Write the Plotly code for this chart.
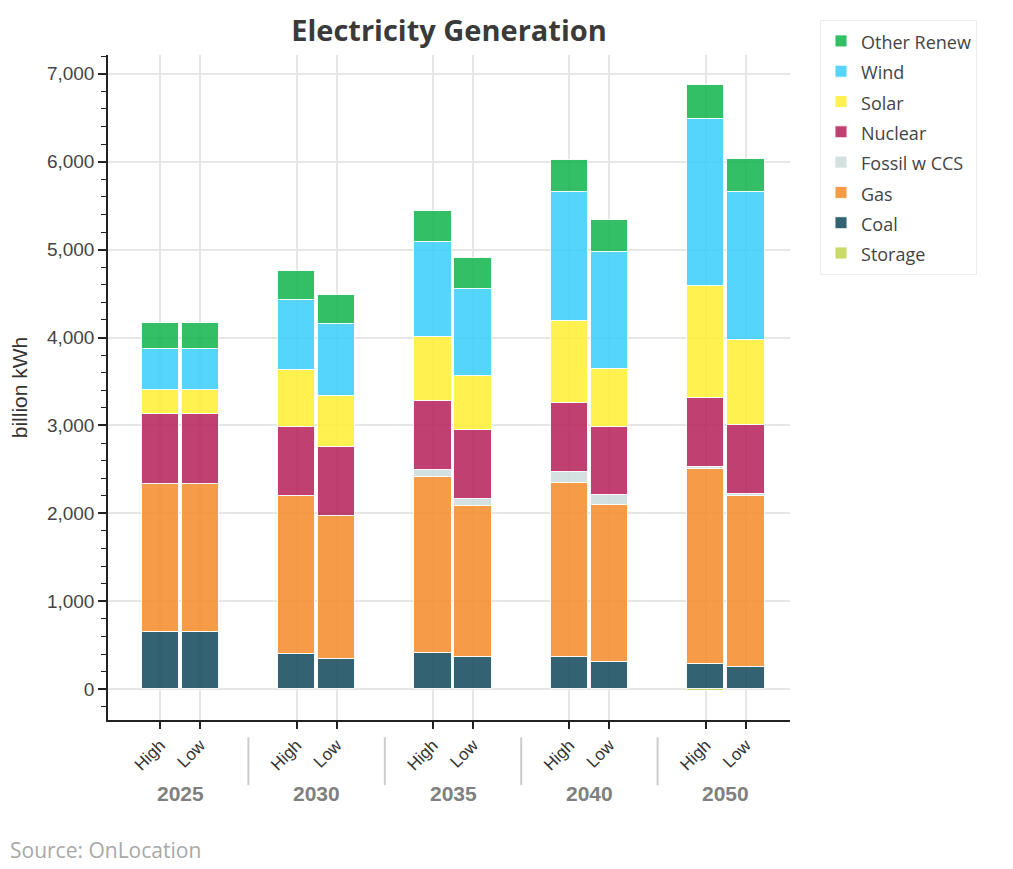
import plotly.graph_objects as go

years = ["2025", "2030", "2035", "2040", "2050"]
scenarios = ["High", "Low"]

# values per (year, scenario) in order: 2025H, 2025L, 2030H, 2030L, ...
storage = [5, 5, 5, 5, 8, 8, 8, 8, -25, 5]
coal = [645, 645, 393, 336, 405, 363, 364, 306, 284, 249]
gas = [1684, 1684, 1798, 1627, 1995, 1714, 1975, 1782, 2219, 1942]
fossil_ccs = [0, 0, 0, 0, 83, 80, 126, 110, 26, 30]
nuclear = [797, 797, 788, 789, 782, 785, 781, 781, 782, 777]
solar = [273, 273, 642, 580, 732, 611, 933, 657, 1274, 967]
wind = [466, 466, 799, 815, 1080, 992, 1467, 1331, 1903, 1684]
other_renew = [296, 296, 330, 330, 353, 350, 364, 364, 383, 376]

series = [
    ("Storage", storage, "rgba(194,210,75,0.85)"),
    ("Coal", coal, "rgba(15,71,90,0.85)"),
    ("Gas", gas, "rgba(244,137,40,0.85)"),
    ("Fossil w CCS", fossil_ccs, "rgba(204,220,220,0.85)"),
    ("Nuclear", nuclear, "rgba(180,30,88,0.85)"),
    ("Solar", solar, "rgba(254,238,49,0.85)"),
    ("Wind", wind, "rgba(55,206,250,0.85)"),
    ("Other Renew", other_renew, "rgba(15,180,75,0.85)"),
]

GROUP_STEP = 3.4
xpos, xtext = [], []
for i, y in enumerate(years):
    for j, s in enumerate(scenarios):
        xpos.append(i * GROUP_STEP + j)
        xtext.append(s)

fig = go.Figure()
for name, vals, col in series:
    fig.add_trace(go.Bar(
        x=xpos, y=vals, name='<span style="font-size:18px">' + name + '</span>', width=0.93,
        marker=dict(color=col, line=dict(color="rgba(255,255,255,0.9)", width=1)),
    ))

shapes = []
annotations = []
for i, y in enumerate(years):
    annotations.append(dict(
        x=i * GROUP_STEP + 0.5, y=-0.111, xref="x", yref="paper",
        text="<b>" + y + "</b>", showarrow=False,
        font=dict(family="Liberation Sans", size=21, color="#808080"),
        xanchor="center", yanchor="middle",
    ))
    if i > 0:
        xd = i * GROUP_STEP - (GROUP_STEP - 1) / 2
        shapes.append(dict(type="line", xref="x", yref="paper", x0=xd, x1=xd,
                           y0=-0.026, y1=-0.098, line=dict(color="#cccccc", width=2)))

annotations.append(dict(
    x=-0.146, y=-0.195, xref="paper", yref="paper", text="Source: OnLocation",
    showarrow=False, xanchor="left", yanchor="middle",
    font=dict(family="Open Sans", size=21, color="#a8a8a8"),
))

fig.update_layout(
    width=1005, height=861,
    barmode="relative", bargap=0,
    plot_bgcolor="white", paper_bgcolor="white",
    margin=dict(l=100, r=223, t=47, b=149, autoexpand=False),
    title=dict(text="<b>Electricity Generation</b>", x=0.5, xref="paper", xanchor="center",
               y=0.974, yanchor="middle",
               font=dict(family="Open Sans", size=29, color="#3a3a3a")),
    legend=dict(traceorder="reversed", x=1.044, y=1.053, xanchor="left", yanchor="top",
                bordercolor="#ececec", borderwidth=1, bgcolor="white",
                font=dict(family="Open Sans", size=21, color="#444"),
                itemwidth=30, tracegroupgap=0),
    shapes=shapes, annotations=annotations,
    showlegend=True,
)

fig.update_xaxes(
    range=[-1.3, 15.7], tickmode="array", tickvals=xpos, ticktext=xtext,
    tickangle=-45, ticks="outside", ticklen=7, tickwidth=1.5, tickcolor="#222",
    showline=True, linecolor="#222", linewidth=1.5, automargin=False,
    showgrid=True, gridcolor="#e6e6e6", gridwidth=1.5, zeroline=False,
    tickfont=dict(family="Liberation Sans", size=17, color="#333"),
)
fig.update_yaxes(
    range=[-350, 7213], tickmode="linear", tick0=0, dtick=1000, tickformat=",d",
    ticks="outside", ticklen=8, tickwidth=1.5, tickcolor="#222",
    minor=dict(dtick=200, ticks="outside", ticklen=5, tickcolor="#222", tickwidth=1, showgrid=False),
    showline=True, linecolor="#222", linewidth=1.5, automargin=False,
    showgrid=True, gridcolor="#e6e6e6", gridwidth=1.5, zeroline=False,
    tickfont=dict(family="Liberation Sans", size=19, color="#444"),
    title=dict(text="billion kWh", standoff=14,
               font=dict(family="Liberation Sans", size=21, color="#333")),
)

fig.write_html("out.html")
